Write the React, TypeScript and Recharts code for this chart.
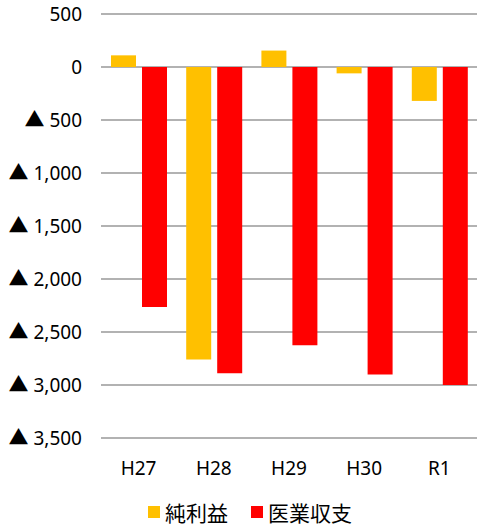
import React from "react";
import { BarChart, Bar, XAxis, YAxis, CartesianGrid, Legend } from "recharts";

const categories = ["H27", "H28", "H29", "H30", "R1"];
const netProfit = [110, -2760, 155, -60, -320];
const medicalBalance = [-2265, -2890, -2625, -2900, -3000];
const yTicks = [500, 0, -500, -1000, -1500, -2000, -2500, -3000, -3500];

const seriesNames = ["純利益", "医業収支"];
const seriesColors = ["#FFC000", "#FF0000"];

const data = categories.map((c, i) => ({
  name: c,
  net: netProfit[i],
  med: medicalBalance[i],
}));

const YTick = (props: any) => {
  const { x, y, payload } = props;
  const v: number = payload.value;
  const num = Math.abs(v).toLocaleString("en-US");
  return (
    <text
      x={x}
      y={y}
      dy="0.36em"
      textAnchor="end"
      fill="#000"
      fontSize={19}
      fontFamily="'Noto Sans', sans-serif"
    >
      {v < 0 && (
        <tspan fontFamily="'Noto Sans CJK JP', sans-serif" fontSize={20}>
          ▲
        </tspan>
      )}
      {v < 0 ? " " + num : num}
    </text>
  );
};

const LegendContent = () => (
  <div
    style={{
      display: "flex",
      justifyContent: "center",
      alignItems: "center",
      height: 32,
      paddingLeft: 23,
      fontFamily: "'Noto Sans CJK JP', 'Noto Sans', sans-serif",
      fontSize: 21,
      color: "#000",
    }}
  >
    {seriesNames.map((n, i) => (
      <div key={n} style={{ display: "flex", alignItems: "center", marginRight: i === 0 ? 23 : 0 }}>
        <div style={{ width: 12, height: 12, background: seriesColors[i], marginRight: 5 }} />
        <span style={{ lineHeight: "32px" }}>{n}</span>
      </div>
    ))}
  </div>
);

export default function App() {
  return (
    <div style={{ position: "absolute", left: 0, top: 0, background: "#fff" }}>
      <BarChart
        width={477}
        height={528}
        data={data}
        margin={{ top: 14, right: 0, bottom: 0, left: 0 }}
        barGap={6}
        barSize={25}
      >
        <CartesianGrid vertical={false} stroke="#999" strokeWidth={1.5} />
        <XAxis
          dataKey="name"
          axisLine={false}
          tickLine={false}
          height={58}
          tickMargin={18}
          tick={{ fill: "#000", fontSize: 19, fontFamily: "'Noto Sans', sans-serif" }}
        />
        <YAxis
          domain={[-3500, 500]}
          ticks={yTicks}
          interval={0}
          axisLine={false}
          tickLine={false}
          width={101}
          tickMargin={13}
          tick={<YTick />}
        />
        <Legend verticalAlign="bottom" height={32} content={<LegendContent />} />
        <Bar dataKey="net" name={seriesNames[0]} fill={seriesColors[0]} isAnimationActive={false} />
        <Bar dataKey="med" name={seriesNames[1]} fill={seriesColors[1]} isAnimationActive={false} />
      </BarChart>
    </div>
  );
}
